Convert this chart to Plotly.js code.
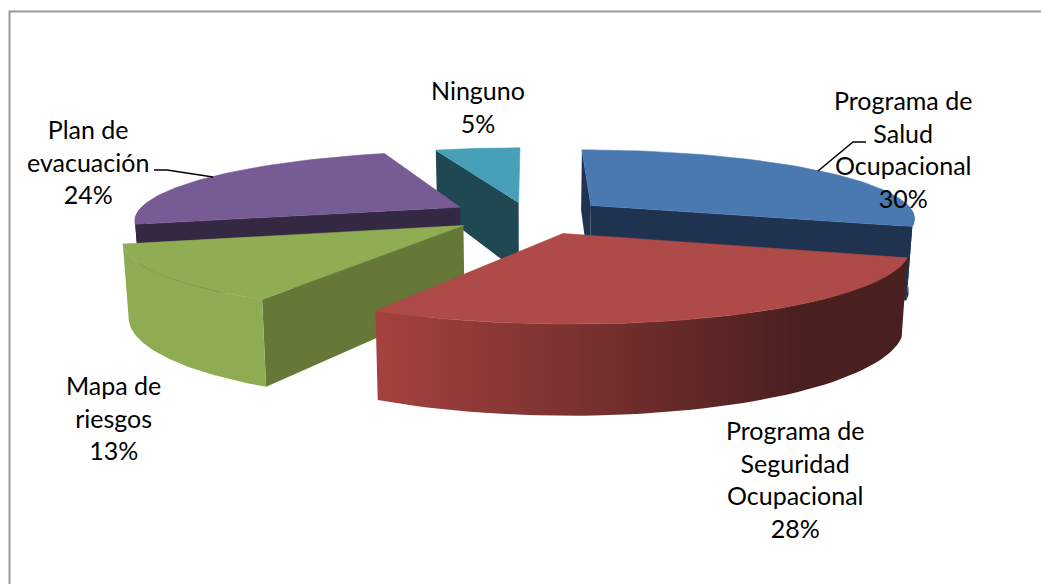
<!DOCTYPE html>
<html><head><meta charset="utf-8">
<script src="https://cdn.plot.ly/plotly-3.0.1.min.js"></script>
<style>html,body{margin:0;padding:0;background:#fff}#c{width:1041px;height:584px}</style>
</head><body><div id="c"></div>
<script>
const categories = ["Programa de Salud Ocupacional","Programa de Seguridad Ocupacional","Mapa de riesgos","Plan de evacuación","Ninguno"];
const values = [30,28,13,24,5];
const labelLines = [["Programa de","Salud","Ocupacional"],["Programa de","Seguridad","Ocupacional"],["Mapa de","riesgos"],["Plan de","evacuación"],["Ninguno"]];
const labelX = [903,795,113,88,478];
const labelY = [101,431,386,130,91];
const explode = [0.245,0.28,0.245,0.243,0.19];
const topColors = ["#4a78b0","#ae4a47","#8fad52","#775b94","#47a0b8"];
const sideColors = ["#1f3350","#4a1f1f","#657838","#352842","#1f4852"];
const wallColors = ["#1f3350","#7a3030","#8fac52","#352842","#1f4852"];
const drawOrder = [4,3,0,2,1];
const showStartFace = [true,false,true,true,true];
const showEndFace = [true,false,false,false,false];

const cx=528, cy=215, F=325, G=68, K=0.17, D=72, TAPER=0.015;
function proj(x,y,z){const s=1/(1+K*y);return [cx+F*x*s*(1-TAPER*z), cy-G*y*s+D*z*s];}
function polyTrace(pts,color,extra){
  return Object.assign({type:'scatter',mode:'lines',x:pts.map(p=>p[0]),y:pts.map(p=>p[1]),
    fill:'toself',fillcolor:color,line:{width:0,color:color},hoverinfo:'skip',showlegend:false},extra||{});
}
const total=values.reduce((a,b)=>a+b,0);
let cum=0; const slices=values.map((v,i)=>{const a0=cum/total*2*Math.PI;cum+=v;const a1=cum/total*2*Math.PI;return {i,a0,a1};});
const traces=[];
drawOrder.forEach(idx=>{
  const {a0,a1}=slices[idx], mid=(a0+a1)/2;
  const ox=explode[idx]*Math.sin(mid), oy=explode[idx]*Math.cos(mid);
  const P=(a,z)=>proj(ox+Math.sin(a),oy+Math.cos(a),z);
  const A=z=>proj(ox,oy,z);
  if(showStartFace[idx])traces.push(polyTrace([A(0),P(a0,0),P(a0,1),A(1),A(0)],sideColors[idx]));
  if(showEndFace[idx])traces.push(polyTrace([A(0),P(a1,0),P(a1,1),A(1),A(0)],sideColors[idx]));
  const lo=Math.max(a0,Math.PI/2-0.05), hi=Math.min(a1,3*Math.PI/2+0.05);
  if(hi>lo){
    const n=50,up=[],dn=[];
    for(let k=0;k<=n;k++){const a=lo+(hi-lo)*k/n;up.push(P(a,0));dn.unshift(P(a,1));}
    const wall=up.concat(dn,[up[0]]);
    const extra=idx===1?{fillgradient:{type:'horizontal',start:375,stop:907,
      colorscale:[[0,'#a5423f'],[0.81,'#4a1f1f'],[1,'#4a1f1f']]}}:{};
    traces.push(polyTrace(wall,wallColors[idx],extra));
  }
  const top=[A(0)];
  for(let k=0;k<=60;k++)top.push(P(a0+(a1-a0)*k/60,0));
  top.push(A(0));
  traces.push(polyTrace(top,topColors[idx],{name:categories[idx],line:{width:0.6,color:topColors[idx]}}));
});
const leaderA={x:[866,853,818],y:[142,142,171]};
const leaderB={x:[154,167,213],y:[170,170,177]};
[leaderA,leaderB].forEach(l=>traces.push({type:'scatter',mode:'lines',x:l.x,y:l.y,line:{color:'#000',width:1.5},hoverinfo:'skip',showlegend:false}));
traces.push({type:'scatter',mode:'lines',x:[9.5,9.5,1041],y:[584,11.5,11.5],line:{color:'#9a9a9a',width:2},hoverinfo:'skip',showlegend:false});

const annotations=categories.map((c,i)=>({
  xref:'x',yref:'y',x:labelX[i],y:labelY[i]-18,xanchor:'center',yanchor:'top',showarrow:false,align:'center',
  text:labelLines[i].concat([values[i]+'%']).join('<br>'),font:{family:'Lato, sans-serif',size:25,color:'#000'}
}));
Plotly.newPlot('c',traces,{
  width:1041,height:584,margin:{l:0,r:0,t:0,b:0},paper_bgcolor:'#fff',plot_bgcolor:'#fff',showlegend:false,
  xaxis:{range:[0,1041],visible:false,fixedrange:true},
  yaxis:{range:[584,0],visible:false,fixedrange:true},
  annotations:annotations
},{displayModeBar:false,staticPlot:true});
</script></body></html>
